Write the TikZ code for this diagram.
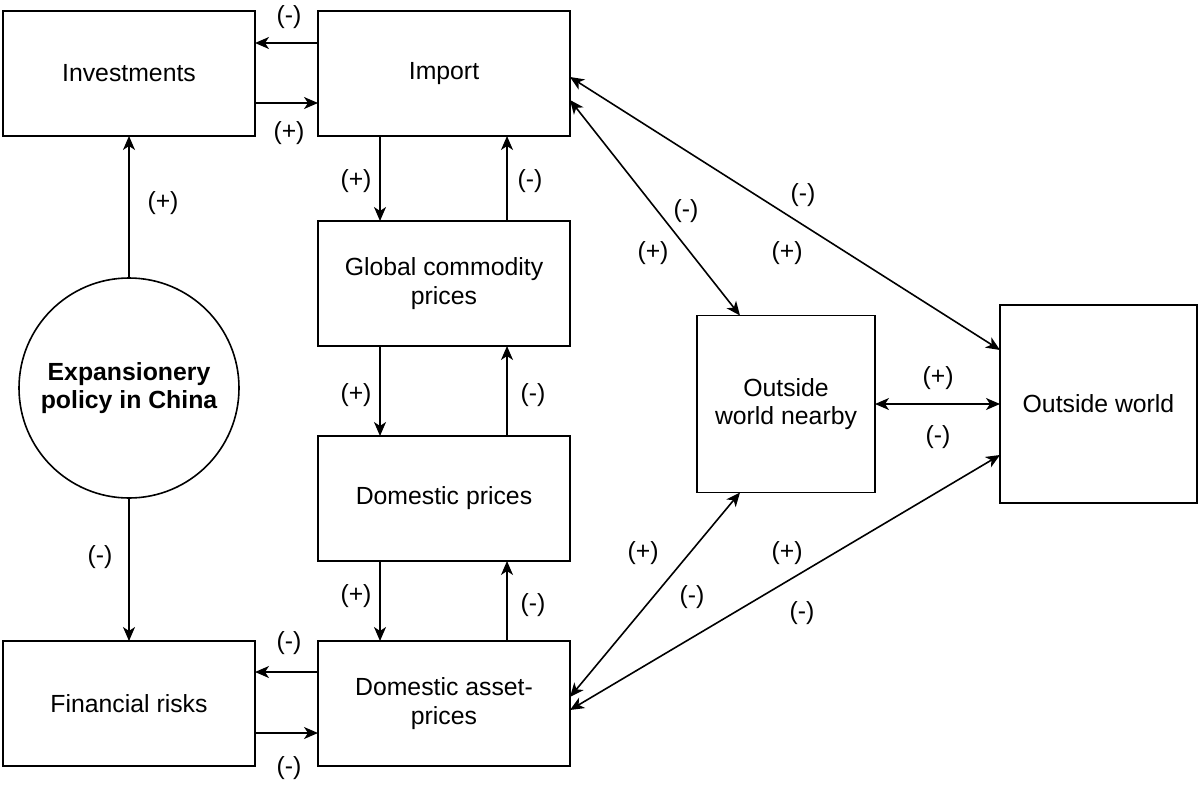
\documentclass[tikz,border=0pt]{standalone}
\usepackage{fontspec}
\setmainfont{Liberation Sans}
\usetikzlibrary{arrows.meta}
\begin{document}
\begin{tikzpicture}[x=0.5pt,y=-0.5pt,
 box/.style={draw,line width=0.8pt,minimum width=126pt,minimum height=62.5pt,inner sep=2pt,outer sep=0pt,align=center,font=\fontsize{12.4}{14.2}\selectfont},
 arr/.style={line width=0.8pt,-{Stealth[length=7pt,width=6pt,inset=2pt]}},
 darr/.style={line width=0.8pt,{Stealth[length=7pt,width=6pt,inset=2pt]}-{Stealth[length=7pt,width=6pt,inset=2pt]}},
 lbl/.style={font=\fontsize{12.4}{14.2}\selectfont,inner sep=0pt}]
\useasboundingbox (0,0) rectangle (1199,787);
% boxes
\node[box] (inv) at (129,73.5) {Investments};
\node[box] (imp) at (444,73.5) {Import};
\node[box] (glob) at (444,283.5) {Global commodity\\prices};
\node[box] (dom) at (444,498.5) {Domestic prices};
\node[box] (asset) at (444,703.5) {Domestic asset-\\prices};
\node[box] (fin) at (129,703.5) {Financial risks};
\node[draw,circle,line width=0.8pt,minimum size=110pt,inner sep=0pt,outer sep=0pt,align=center,font=\fontsize{12.4}{14.2}\selectfont\bfseries] (pol) at (129,388) {Expansionery\\policy in China};
\node[box,minimum width=89pt,minimum height=88.5pt] (near) at (786,404) {Outside\\world nearby};
\node[box,minimum width=98.5pt,minimum height=99pt] (ow) at (1098.5,404) {Outside world};
% connectors
\draw[arr] (imp.west |- 0,43) -- (inv.east |- 0,43);
\draw[arr] (inv.east |- 0,103) -- (imp.west |- 0,103);
\draw[arr] (pol.north) -- (inv.south);
\draw[arr] (pol.south) -- (fin.north);
\draw[arr] (imp.south -| 380,0) -- (glob.north -| 380,0);
\draw[arr] (glob.north -| 507,0) -- (imp.south -| 507,0);
\draw[arr] (glob.south -| 380,0) -- (dom.north -| 380,0);
\draw[arr] (dom.north -| 507,0) -- (glob.south -| 507,0);
\draw[arr] (dom.south -| 380,0) -- (asset.north -| 380,0);
\draw[arr] (asset.north -| 507,0) -- (dom.south -| 507,0);
\draw[arr] (asset.west |- 0,672) -- (fin.east |- 0,672);
\draw[arr] (fin.east |- 0,733) -- (asset.west |- 0,733);
\draw[darr] (imp.east |- 0,77) -- (ow.west |- 0,350);
\draw[darr] (imp.east |- 0,100) -- (near.north -| 740,0);
\draw[darr] (near.east) -- (ow.west |- near.east);
\draw[darr] (asset.east |- 0,697) -- (near.south -| 740,0);
\draw[darr] (asset.east |- 0,710) -- (ow.west |- 0,455);
% labels
\node[lbl] (l1) at (289,17) {(-)};
\node[lbl] (l2) at (289,133) {(+)};
\node[lbl] (l3) at (163,203) {(+)};
\node[lbl] (l4) at (100,557) {(-)};
\node[lbl] (l5) at (356,181) {(+)};
\node[lbl] (l6) at (530,181) {(-)};
\node[lbl] (l7) at (356,395) {(+)};
\node[lbl] (l8) at (533,395) {(-)};
\node[lbl] (l9) at (356,596) {(+)};
\node[lbl] (l10) at (533,605) {(-)};
\node[lbl] (l11) at (289,643) {(-)};
\node[lbl] (l12) at (289,768) {(-)};
\node[lbl] (l13) at (803,195) {(-)};
\node[lbl] (l14) at (787,253) {(+)};
\node[lbl] (l15) at (686,211) {(-)};
\node[lbl] (l16) at (653,253) {(+)};
\node[lbl] (l17) at (938,378) {(+)};
\node[lbl] (l18) at (938,437) {(-)};
\node[lbl] (l19) at (643,553) {(+)};
\node[lbl] (l20) at (692,597) {(-)};
\node[lbl] (l21) at (787,553) {(+)};
\node[lbl] (l22) at (802,613) {(-)};
\end{tikzpicture}
\end{document}
